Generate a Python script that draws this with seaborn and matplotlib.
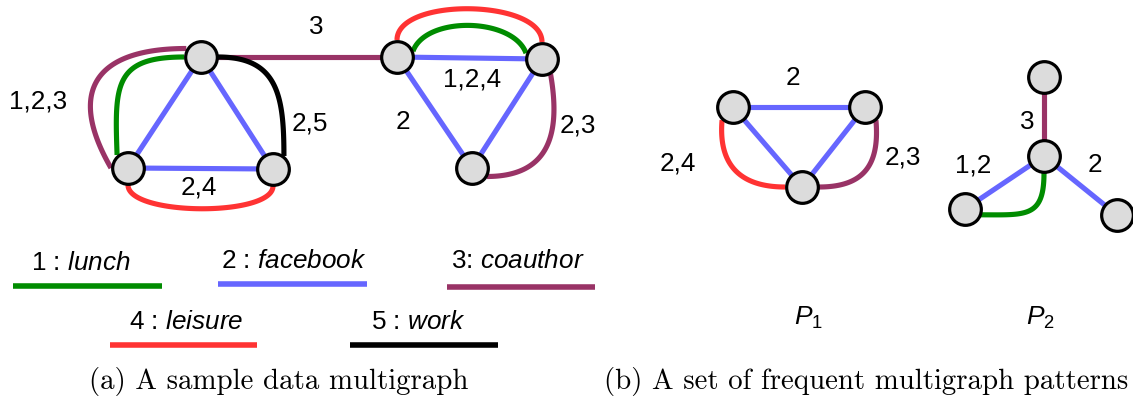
import numpy as np
import pandas as pd
import matplotlib.pyplot as plt
import seaborn as sns

# relation types (edge label number -> name, colour)
rel_ids = [1, 2, 3, 4, 5]
rel_names = ['lunch', 'facebook', 'coauthor', 'leisure', 'work']
rel_colors = ['#008c00', '#6666ff', '#993366', '#ff3333', '#000000']

# nodes (x, y in picture pixels, y pointing down)
node_names = ['a1', 'a2', 'a3', 'a4', 'a5', 'a6', 'p1', 'p2', 'p3', 'q1', 'q2', 'q3', 'q4']
node_x = [201, 128, 273, 397, 542, 472, 733, 865, 802, 1044, 1044, 965, 1117]
node_y = [57, 168, 169, 57, 59, 168, 107, 107, 187, 77, 156, 209, 215]

# straight edges
line_src = ['a1', 'a1', 'a2', 'a1', 'a4', 'a4', 'a5', 'p1', 'p1', 'p2', 'q1', 'q2', 'q2']
line_dst = ['a2', 'a3', 'a3', 'a4', 'a5', 'a6', 'a6', 'p2', 'p3', 'p3', 'q2', 'q3', 'q4']
line_rel = [2, 2, 2, 3, 2, 2, 2, 2, 2, 2, 3, 2, 2]

# curved (parallel) edges
arc_src = ['a2', 'a2', 'a1', 'a2', 'a4', 'a4', 'a5', 'p1', 'p2', 'q2']
arc_dst = ['a1', 'a1', 'a3', 'a3', 'a5', 'a5', 'a6', 'p3', 'p3', 'q3']
arc_rel = [3, 1, 5, 4, 1, 4, 3, 4, 3, 1]

# edge-set labels
edge_labels = ['1,2,3', '2,5', '2,4', '3', '1,2,4', '2', '2,3',
               '2', '2,4', '2,3', '3', '1,2', '2']

captions = ['(a) A sample data multigraph', '(b) A set of frequent multigraph patterns']
pattern_names = ['$\\mathit{P}_\\mathit{1}$', '$\\mathit{P}_\\mathit{2}$']

# ---- layout / styling ----
# arc shape: rim angle at src, tangent at src, rim angle at dst, tangent at dst, looseness
arc_shape = [(180, 120, 150, 180, 90), (130, 92, 180, 180, 70), (0, 0, 50, 90, 60),
             (270, 270, 270, 270, 31), (20, 70, 160, 110, 38), (90, 90, 90, 90, 43),
             (300, 280, 330, 0, 62), (230, 265, 180, 180, 45), (310, 275, 0, 0, 45),
             (270, 270, 340, 0, 45)]
label_pos = [(38, 102), (310, 124), (199, 187), (316, 27), (472, 80), (403, 122), (578, 126),
             (793, 78), (678, 163), (903, 158), (1027, 122), (973, 166), (1095, 165)]
legend_text_pos = [(81, 263), (294, 261), (518, 261), (186, 322), (418, 322)]
legend_line_x = [(13, 162), (218, 367), (447, 595), (110, 257), (350, 498)]
legend_line_y = [286, 284, 287, 345, 345]
caption_pos = [(279, 381), (866, 381)]
pattern_pos = [(808, 318), (1040, 318)]

R = 17
LW = 3.7

sns.set_theme(style='white')
plt.rcParams['font.family'] = ['Liberation Sans', 'DejaVu Sans']
plt.rcParams['text.color'] = 'black'
plt.rcParams['mathtext.fontset'] = 'custom'
plt.rcParams['mathtext.it'] = 'Liberation Sans:italic'
plt.rcParams['mathtext.rm'] = 'Liberation Sans'

color_of = dict(zip(rel_ids, rel_colors))
nodes = pd.DataFrame({'name': node_names, 'x': node_x, 'y': node_y}).set_index('name')


def unit(a):
    a = np.deg2rad(a)
    return np.array([np.cos(a), -np.sin(a)])


def bezier(p0, p1, p2, p3, n=80):
    t = np.linspace(0, 1, n)[:, None]
    return (1 - t) ** 3 * p0 + 3 * (1 - t) ** 2 * t * p1 + 3 * (1 - t) * t ** 2 * p2 + t ** 3 * p3


fig = plt.figure(figsize=(11.33, 4.0), dpi=100)
ax = fig.add_axes([0, 0, 1, 1])

for s, d, r in zip(line_src, line_dst, line_rel):
    ax.plot([nodes.x[s], nodes.x[d]], [nodes.y[s], nodes.y[d]], color=color_of[r],
            lw=LW, solid_capstyle='butt', zorder=2)

for s, d, r, (ra, ta, rb, tb, L) in zip(arc_src, arc_dst, arc_rel, arc_shape):
    pa = np.array([nodes.x[s], nodes.y[s]], float)
    pb = np.array([nodes.x[d], nodes.y[d]], float)
    p0 = pa + R * unit(ra)
    p3 = pb + R * unit(rb)
    pts = bezier(p0, p0 + L * unit(ta), p3 + L * unit(tb), p3)
    ax.plot(pts[:, 0], pts[:, 1], color=color_of[r], lw=LW, solid_capstyle='butt', zorder=2)

sns.scatterplot(data=nodes, x='x', y='y', s=520, color='#dcdcdc', edgecolor='black',
                linewidth=2.3, ax=ax, zorder=3, legend=False)
ax.set_xlim(0, 1133)
ax.set_ylim(400, 0)
ax.axis('off')

for txt, (x, y) in zip(edge_labels, label_pos):
    ax.text(x, y, txt, fontsize=18.8, ha='center', va='center')

for i, (rid, name) in enumerate(zip(rel_ids, rel_names)):
    sep = ': ' if rid == 3 else ' : '
    x, y = legend_text_pos[i]
    ax.text(x, y, f'{rid}{sep}$\\mathit{{{name}}}$', fontsize=18.8, ha='center', va='center')
    ax.plot(legend_line_x[i], [legend_line_y[i]] * 2, color=rel_colors[i], lw=4,
            solid_capstyle='butt')

for txt, (x, y) in zip(pattern_names, pattern_pos):
    ax.text(x, y, txt, fontsize=19, ha='center', va='center')

for txt, (x, y) in zip(captions, caption_pos):
    ax.text(x, y, txt, fontsize=20.8, ha='center', va='center', family='cmr10')

fig.savefig('out.png', dpi=100)
